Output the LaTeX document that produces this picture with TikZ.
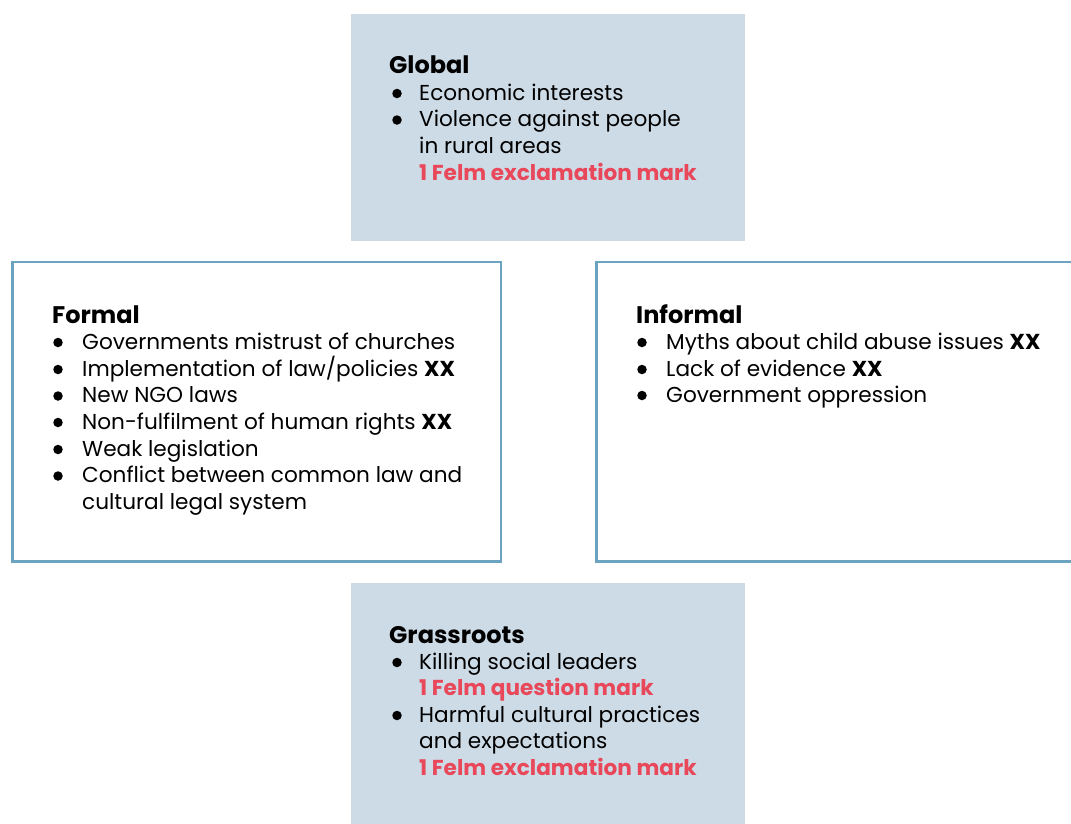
\documentclass[tikz,border=0pt]{standalone}
\usepackage{fontspec}
\setmainfont{Poppins}
\definecolor{boxfill}{HTML}{CDDBE6}
\definecolor{framecol}{HTML}{6CA3C1}
\definecolor{felmred}{HTML}{E8485A}
\newcommand{\bodysize}{\fontsize{21.6}{26}\selectfont}
\newcommand{\headsize}{\fontsize{24}{28}\selectfont}
\tikzset{
  panel/.style={fill=boxfill, draw=none},
  frame/.style={draw=framecol, line width=2.5pt, fill=white},
  head/.style={anchor=base west, inner sep=0pt, font=\headsize\bfseries},
  txt/.style={anchor=base west, inner sep=0pt, font=\bodysize},
  redtxt/.style={anchor=base west, inner sep=0pt, font=\bodysize\bfseries, text=felmred},
  dot/.style={circle, fill=black, inner sep=0pt, minimum size=9.5pt},
}
\begin{document}
\begin{tikzpicture}[x=1pt, y=-1pt]
\useasboundingbox (0,0) rectangle (1071,823);
\clip (0,0) rectangle (1071,823);
% boxes
\fill[panel] (351,14) rectangle (745,241);
\draw[frame] (12.5,262) rectangle (501,561.5);
\draw[frame] (596.5,262) rectangle (1085,561.5);
\fill[panel] (351,583) rectangle (745,830);
% Global
\node[head] (gh) at (389,73) {Global};
\node[dot] (gb1) at (397,93.5) {};
\node[txt] (g1) at (419,100) {Economic interests};
\node[dot] (gb2) at (397,120) {};
\node[txt] (g2) at (419,126.5) {Violence against people};
\node[txt] (g3) at (419,153) {in rural areas};
\node[redtxt] (g4) at (419,180) {1 Felm exclamation mark};
% Formal
\node[head] (fh) at (52,323) {Formal};
\node[dot] (fb1) at (58,342.5) {};
\node[txt] (f1) at (82,349) {Governments mistrust of churches};
\node[dot] (fb2) at (58,369.5) {};
\node[txt] (f2) at (82,376) {Implementation of law/policies \textbf{XX}};
\node[dot] (fb3) at (58,396) {};
\node[txt] (f3) at (82,402.5) {New NGO laws};
\node[dot] (fb4) at (58,422.5) {};
\node[txt] (f4) at (82,429) {Non-fulfilment of human rights \textbf{XX}};
\node[dot] (fb5) at (58,449.5) {};
\node[txt] (f5) at (82,456) {Weak legislation};
\node[dot] (fb6) at (58,476) {};
\node[txt] (f6) at (82,482.5) {Conflict between common law and};
\node[txt] (f7) at (82,509) {cultural legal system};
% Informal
\node[head] (ih) at (636,323) {Informal};
\node[dot] (ib1) at (642,342.5) {};
\node[txt] (i1) at (666,349) {Myths about child abuse issues \textbf{XX}};
\node[dot] (ib2) at (642,369.5) {};
\node[txt] (i2) at (666,376) {Lack of evidence \textbf{XX}};
\node[dot] (ib3) at (642,395.5) {};
\node[txt] (i3) at (666,402) {Government oppression};
% Grassroots
\node[head] (rh) at (389,643) {Grassroots};
\node[dot] (rb1) at (397,662.5) {};
\node[txt] (r1) at (419,669) {Killing social leaders};
\node[redtxt] (r2) at (419,695.7) {1 Felm question mark};
\node[dot] (rb2) at (397,715.5) {};
\node[txt] (r3) at (419,722) {Harmful cultural practices};
\node[txt] (r4) at (419,748.7) {and expectations};
\node[redtxt] (r5) at (419,775.3) {1 Felm exclamation mark};
\end{tikzpicture}
\end{document}
